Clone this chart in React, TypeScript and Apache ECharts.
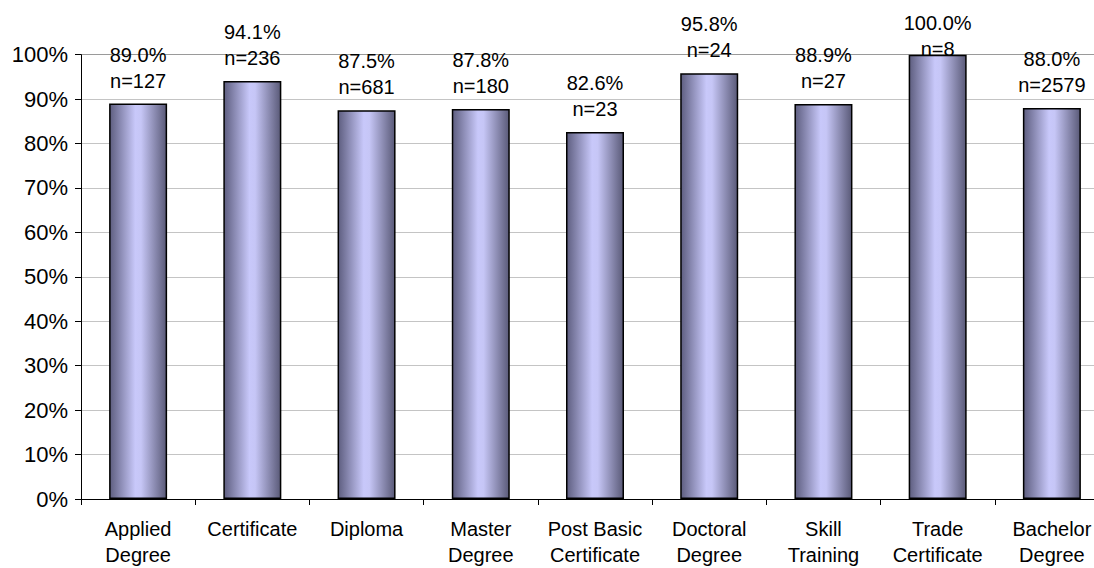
import React, { useEffect, useRef } from "react";
import * as echarts from "echarts";

// Program types and their share of respondents, with sample sizes
const categories = [
  "Applied\nDegree",
  "Certificate",
  "Diploma",
  "Master\nDegree",
  "Post Basic\nCertificate",
  "Doctoral\nDegree",
  "Skill\nTraining",
  "Trade\nCertificate",
  "Bachelor\nDegree",
];
const percentValues = [89.0, 94.1, 87.5, 87.8, 82.6, 95.8, 88.9, 100.0, 88.0];
const sampleSizes = [127, 236, 681, 180, 23, 24, 27, 8, 2579];

const FONT = "'Liberation Sans', Arial, sans-serif";

export default function App() {
  const ref = useRef<HTMLDivElement>(null);

  useEffect(() => {
    if (!ref.current) return;
    const chart = echarts.init(ref.current, undefined, { renderer: "svg" });

    const barFill = new echarts.graphic.LinearGradient(0, 0, 1, 0, [
      { offset: 0, color: "#5e5e80" },
      { offset: 0.45, color: "#c8c8fa" },
      { offset: 0.55, color: "#c6c6f6" },
      { offset: 1, color: "#5a5a78" },
    ]);

    const gridColors = Array.from({ length: 11 }, (_, i) => (i === 10 ? "#9a9a9a" : "#c4c4c4"));

    const data = percentValues.map((v, i) => {
      const item: any = { value: v };
      // the full-height bar keeps its label inside the chart area
      if (v >= 100) item.label = { offset: [0, 17] };
      return item;
    });

    chart.setOption({
      animation: false,
      backgroundColor: "#ffffff",
      grid: { left: 81, right: 11, top: 54.7, bottom: 67, containLabel: false },
      xAxis: {
        type: "category",
        data: categories,
        boundaryGap: true,
        axisLine: { show: true, lineStyle: { color: "#000", width: 1 } },
        axisTick: { show: true, length: 6, lineStyle: { color: "#000" } },
        axisLabel: {
          interval: 0,
          margin: 17,
          color: "#000",
          fontFamily: FONT,
          fontSize: 20,
          lineHeight: 26,
        },
      },
      yAxis: {
        type: "value",
        min: 0,
        max: 100,
        interval: 10,
        axisLine: { show: true, lineStyle: { color: "#000", width: 1 } },
        axisTick: { show: true, length: 6, lineStyle: { color: "#000" } },
        axisLabel: {
          formatter: "{value}%",
          margin: 13,
          color: "#000",
          fontFamily: FONT,
          fontSize: 22,
        },
        splitLine: { show: true, lineStyle: { color: gridColors, width: 1 } },
      },
      series: [
        {
          type: "bar",
          data,
          barWidth: 58,
          itemStyle: { color: barFill, borderColor: "#000", borderWidth: 1.5 },
          label: {
            show: true,
            position: "top",
            distance: 10,
            color: "#000",
            fontFamily: FONT,
            fontSize: 20,
            lineHeight: 26,
            formatter: (p: any) =>
              `${percentValues[p.dataIndex].toFixed(1)}%\nn=${sampleSizes[p.dataIndex]}`,
          },
        },
      ],
    });

    return () => chart.dispose();
  }, []);

  return (
    <div
      style={{
        position: "fixed",
        left: 0,
        top: 0,
        width: 1094,
        height: 568,
        overflow: "hidden",
        background: "#fff",
      }}
    >
      <div ref={ref} style={{ width: 1120, height: 568 }} />
    </div>
  );
}
